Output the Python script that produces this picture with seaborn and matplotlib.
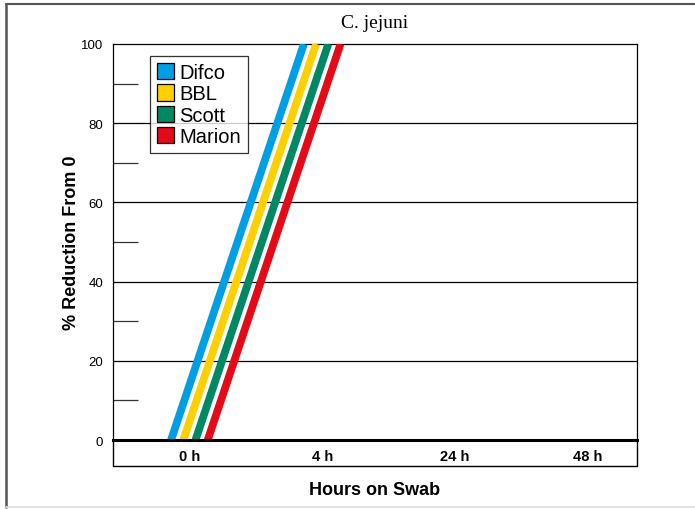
import numpy as np
import pandas as pd
import matplotlib
matplotlib.use("Agg")
import matplotlib.pyplot as plt
import seaborn as sns
from matplotlib.patches import Patch, Rectangle
from matplotlib.lines import Line2D

# ---- data ----
times = ["0 h", "4 h", "24 h", "48 h"]
series = ["Difco", "BBL", "Scott", "Marion"]
difco = [0, 100, np.nan, np.nan]
bbl = [0, 100, np.nan, np.nan]
scott = [0, 100, np.nan, np.nan]
marion = [0, 100, np.nan, np.nan]
colors = ["#009FE3", "#FFD000", "#008763", "#E30B17"]
y_ticks = [0, 20, 40, 60, 80, 100]
title = "C. jejuni"

values = {"Difco": difco, "BBL": bbl, "Scott": scott, "Marion": marion}
step = 0.092  # horizontal dodge between series (category units)
rows = []
for k, s in enumerate(series):
    off = (k - (len(series) - 1) / 2) * step
    for i, t in enumerate(times):
        rows.append({"x": i + off, "value": values[s][i], "series": s})
df = pd.DataFrame(rows).dropna()

sns.set_theme(style="white")
plt.rcParams["font.family"] = ["Liberation Sans", "DejaVu Sans"]
plt.rcParams["text.color"] = "black"
plt.rcParams["axes.labelcolor"] = "black"

W, H = 695, 510
fig = plt.figure(figsize=(W / 100, H / 100), dpi=100)
ax = fig.add_axes([113 / W, 1 - 441 / H, (637 - 113) / W, (441 - 45) / H])

sns.lineplot(data=df, x="x", y="value", hue="series", hue_order=series,
             palette=colors, linewidth=5.6, ax=ax, legend=False,
             solid_capstyle="butt", zorder=3)

ax.set_xlim(-0.575, 3.37)
ax.set_ylim(0, 100)

# grid lines
for v in y_ticks[1:-1]:
    ax.axhline(v, color="black", lw=0.9, zorder=1)

ax.set_yticks(y_ticks)
ax.set_yticks([10, 30, 50, 70, 90], minor=True)
ax.tick_params(axis="y", which="major", length=0, pad=7, labelsize=9.5, colors="black")
ax.tick_params(axis="y", which="minor", direction="in", length=18, width=0.9,
               color="#333333", left=True)
ax.set_xticks(range(len(times)))
ax.set_xticklabels(times, fontweight="bold", fontsize=10.5, color="black")
ax.tick_params(axis="x", length=0, pad=6.5)

for sp in ["left", "top", "right"]:
    ax.spines[sp].set_visible(True)
    ax.spines[sp].set_color("black")
    ax.spines[sp].set_linewidth(0.9)
ax.spines["bottom"].set_color("black")
ax.spines["bottom"].set_linewidth(2.2)
ax.spines["bottom"].set_zorder(5)

ax.set_xlabel("Hours on Swab", fontweight="bold", fontsize=13, labelpad=13, color="black")
ax.set_ylabel("% Reduction From 0", fontweight="bold", fontsize=13, labelpad=1, color="black")
ax.set_title(title, family=["Liberation Serif", "DejaVu Serif"], fontsize=14, pad=12,
             color="black")

# band around x tick labels
fig.patches.append(Rectangle((113 / W, 1 - 467 / H), (637 - 113) / W, 26 / H,
                             transform=fig.transFigure, fill=False,
                             edgecolor="black", lw=1.0))

# legend
handles = [Patch(facecolor=c, edgecolor="black", lw=0.9) for c in colors]
leg = ax.legend(handles, series, loc="upper left",
                bbox_to_anchor=((150 - 113) / 524, (441 - 57) / 396),
                borderaxespad=0, fontsize=14.5, labelspacing=0.12,
                handlelength=0.85, handleheight=0.85, handletextpad=0.25,
                borderpad=0.35, frameon=True, fancybox=False)
leg.get_frame().set_edgecolor("black")
leg.get_frame().set_linewidth(0.9)
leg.set_zorder(6)
for t in leg.get_texts():
    t.set_color("black")

# figure border
fig.add_artist(Line2D([6 / W, 6 / W], [1 - 508 / H, 1 - 5 / H], transform=fig.transFigure,
                      color="#555555", lw=1.8))
fig.add_artist(Line2D([6 / W, 1], [1 - 5 / H, 1 - 5 / H], transform=fig.transFigure,
                      color="#555555", lw=1.5))
fig.add_artist(Line2D([6 / W, 1], [1 - 508 / H, 1 - 508 / H], transform=fig.transFigure,
                      color="#dddddd", lw=1.2))

fig.savefig("out.png", dpi=100)
